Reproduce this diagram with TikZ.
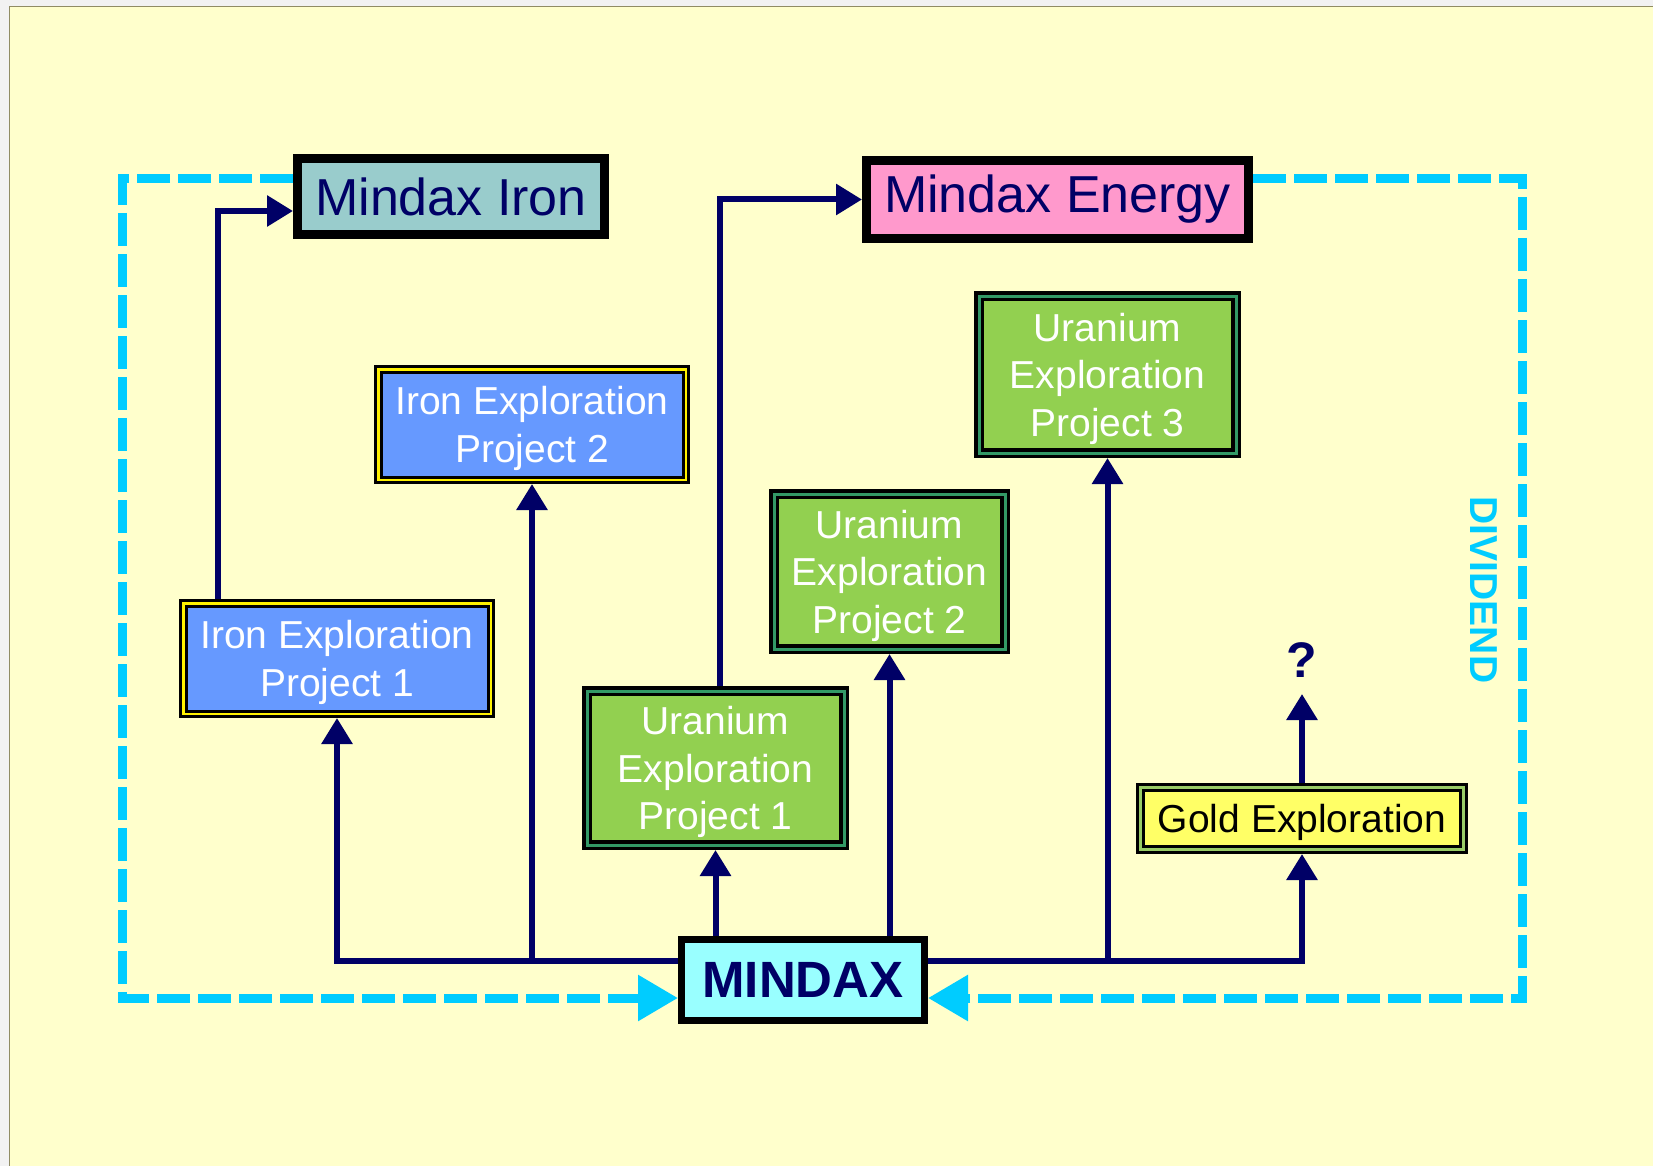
\documentclass[tikz,border=0pt]{standalone}
\usepackage{fontspec}
\setmainfont{Liberation Sans}
\usetikzlibrary{arrows.meta,calc}
\definecolor{pagebg}{HTML}{FFFFCC}
\definecolor{outbg}{HTML}{F2F2F2}
\definecolor{navy}{HTML}{000066}
\definecolor{cy}{HTML}{00CCFF}
\definecolor{tealA}{HTML}{99CCCC}
\definecolor{pinkA}{HTML}{FF99CC}
\definecolor{blueA}{HTML}{6699FF}
\definecolor{greenA}{HTML}{92D050}
\definecolor{greenB}{HTML}{339966}
\definecolor{goldA}{HTML}{FFFF66}
\definecolor{goldB}{HTML}{99CC66}
\definecolor{aquaA}{HTML}{99FFFF}
\begin{document}
\begin{tikzpicture}[x=1pt,y=-1pt,
  every node/.style={inner sep=0pt},
  company/.style={draw=black, line width=9pt, outer sep=4.5pt, text=navy,
    font=\fontsize{52}{60}\selectfont},
  ironbox/.style={draw=black, line width=3pt, double=yellow, double distance=2.5pt,
    outer sep=4.25pt, fill=blueA, text=white, align=center, text depth=0pt,
    font=\fontsize{39}{47.5}\selectfont},
  urbox/.style={draw=black, line width=3.5pt, double=greenB, double distance=3pt,
    outer sep=5pt, fill=greenA, text=white, align=center, text depth=0pt,
    font=\fontsize{39}{47.5}\selectfont},
  goldbox/.style={draw=black, line width=3pt, double=goldB, double distance=3pt,
    outer sep=4.5pt, fill=goldA, text=black, align=center, text depth=0pt,
    font=\fontsize{39}{47.5}\selectfont},
  arr/.style={draw=navy, line width=6pt, -{Triangle[length=26pt,width=30pt]}},
  div/.style={draw=cy, line width=9pt, dash pattern=on 33pt off 8pt,
    -{Triangle[length=40pt,width=44pt]}}
]
\useasboundingbox (0,0) rectangle (1653,1166);
\fill[outbg] (0,0) rectangle (1653,1166);
\filldraw[fill=pagebg, draw=gray!70!olive, line width=1pt] (9,7) rectangle (1660,1175);

% coordinates
\coordinate (dtl) at (122,179);
\coordinate (dbl) at (122,998);
\coordinate (dtr) at (1522,179);
\coordinate (dbr) at (1522,998);
\coordinate (bus) at (0,961);
\coordinate (kI) at (218,211);
\coordinate (kE) at (720,201);

% nodes
\node[company, fill=tealA, minimum width=307, minimum height=76] (iron) at (451,196.5) {Mindax Iron};
\node[company, fill=pinkA, minimum width=382, minimum height=78] (energy) at (1057.5,199.5) {Mindax Energy};
\node[company, fill=aquaA, line width=7pt, outer sep=3.5pt, minimum width=243, minimum height=81,
  font=\bfseries\fontsize{51}{60}\selectfont] (mindax) at (803,980) {MINDAX};
\node[ironbox, minimum width=307.5, minimum height=110.5] (ie2) at (532,424.5) {Iron Exploration\\Project 2};
\node[ironbox, minimum width=307.5, minimum height=110.5] (ie1) at (337,658.5) {Iron Exploration\\Project 1};
\node[urbox, minimum width=257, minimum height=154] (u1) at (715.5,768) {Uranium\\Exploration\\Project 1};
\node[urbox, minimum width=231, minimum height=155] (u2) at (889.5,571.5) {Uranium\\Exploration\\Project 2};
\node[urbox, minimum width=257, minimum height=157] (u3) at (1107.5,374.5) {Uranium\\Exploration\\Project 3};
\node[goldbox, minimum width=323, minimum height=62] (gold) at (1302,818.5) {Gold Exploration};
\node[anchor=south, text=navy, font=\bfseries\fontsize{50}{50}\selectfont] (q) at (1302,678) {?};
\node[rotate=-90, text=cy, font=\bfseries\fontsize{39}{39}\selectfont] (dv) at (1484,590) {DIVIDEND};

% dividend loops
\draw[div] (iron.west |- dtl) -- (dtl) -- (dbl) -- (mindax.west |- dbl);
\draw[div] (energy.east |- dtr) -- (dtr) -- (dbr) -- (mindax.east |- dbr);

% investment connectors
\draw[arr] (mindax.west |- bus) -| (ie1.south);
\draw[arr] (ie2.south |- bus) -- (ie2.south);
\draw[arr] (mindax.north -| u1.south) -- (u1.south);
\draw[arr] (mindax.north -| u2.south) -- (u2.south);
\draw[arr] (mindax.east |- bus) -| (gold.south);
\draw[arr] (u3.south |- bus) -- (u3.south);
\draw[arr, shorten >=16pt] (gold.north) -- (q.south);
\draw[arr] (ie1.north -| kI) |- (iron.west |- kI);
\draw[arr] (u1.north -| kE) |- (energy.west);
\end{tikzpicture}
\end{document}
